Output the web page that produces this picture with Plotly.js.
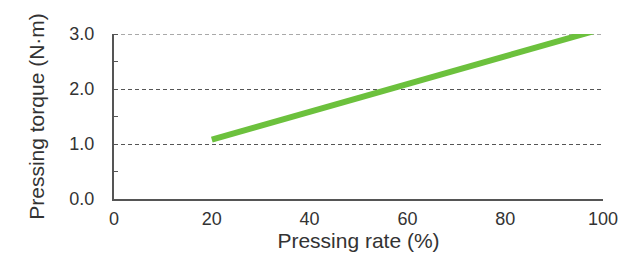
<!DOCTYPE html>
<html>
<head>
<meta charset="utf-8">
<script src="https://cdn.plot.ly/plotly-3.0.1.min.js"></script>
<style>html,body{margin:0;padding:0;background:#fff;}#chart{width:626px;height:253px;}</style>
</head>
<body>
<div id="chart"></div>
<script>
const pressingRate = [20, 100];
const pressingTorque = [1.08, 3.1];
const xTickVals = [0, 20, 40, 60, 80, 100];
const yTickVals = [0, 1, 2, 3];
const yTickText = ["0.0", "1.0", "2.0", "3.0"];
const yTopGrid = 3;

const fontFam = "Liberation Sans, Arial, sans-serif";
const trace = {
  x: pressingRate,
  y: pressingTorque,
  mode: "lines",
  line: {color: "#6cc13d", width: 6},
  cliponaxis: true,
  hoverinfo: "skip"
};
const layout = {
  width: 626, height: 253,
  margin: {l: 114, r: 23, t: 34, b: 54},
  paper_bgcolor: "#fff", plot_bgcolor: "#fff",
  showlegend: false,
  font: {family: fontFam, size: 18, color: "#333"},
  xaxis: {
    range: [0, 100], tickvals: xTickVals, ticks: "",
    showgrid: false, zeroline: false,
    showline: true, linecolor: "#555", linewidth: 2,
    tickfont: {size: 18, color: "#333"},
    ticklabelstandoff: 2,
    title: {text: "Pressing rate (%)", font: {size: 21, color: "#333"}, standoff: 4}
  },
  yaxis: {
    range: [0, 3], tickvals: yTickVals, ticktext: yTickText,
    ticks: "", showgrid: true, gridcolor: "#555", gridwidth: 1, griddash: "4px,3px",
    zeroline: false, showline: true, linecolor: "#555", linewidth: 2,
    ticklabelstandoff: 14,
    minor: {dtick: 0.5, tick0: 0, ticks: "inside", ticklen: 4, tickcolor: "#555", tickwidth: 1, showgrid: false},
    tickfont: {size: 18, color: "#333"},
    title: {text: "Pressing torque (N·m)", font: {size: 21, color: "#333"}, standoff: 19}
  },
  shapes: [{
    type: "line", xref: "paper", yref: "y", x0: 0, x1: 1, y0: yTopGrid, y1: yTopGrid,
    line: {color: "#555", width: 1, dash: "4px,3px"}, layer: "below"
  }]
};
Plotly.newPlot("chart", [trace], layout, {staticPlot: true});
</script>
</body>
</html>
